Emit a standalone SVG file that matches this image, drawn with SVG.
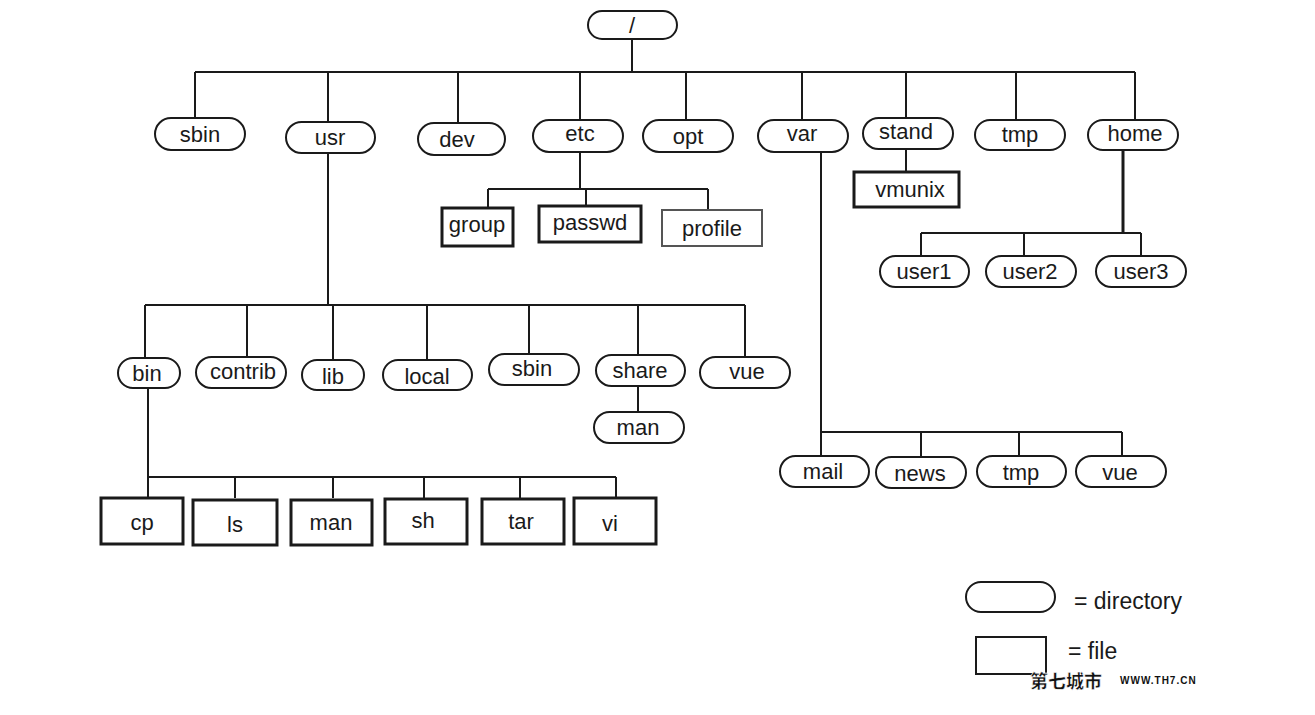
<svg xmlns="http://www.w3.org/2000/svg" width="1315" height="715" viewBox="0 0 1315 715">
<style>
.dir{fill:#fff;stroke:#1a1a1a;stroke-width:2}
.file{fill:#fff;stroke:#1a1a1a;stroke-width:3}
.file2{fill:#fff;stroke:#555;stroke-width:2}
.t{font-family:"Liberation Sans",Arial,sans-serif;font-size:22px;fill:#1a1a1a;text-anchor:middle}
.lg{font-family:"Liberation Sans",Arial,sans-serif;font-size:23px;fill:#1a1a1a}
.c{stroke:#1a1a1a;stroke-width:2;fill:none}
</style>
<rect width="1315" height="715" fill="#fff"/>
<g id="connectors" class="c">
<path d="M632 39V72M195 72H1135M195 72V118M328 72V122M458 72V123M580 72V120M686 72V120M802 72V120M906 72V118M1016 72V120M1135 72V120"/>
<path d="M580 152V189M488 189H708M488 189V208M586 189V206M708 189V210"/>
<path d="M906 149V172"/>
<path d="M1123 150V233" stroke-width="3"/>
<path d="M921 233H1141M921 233V256M1024 233V256M1141 233V256"/>
<path d="M328 153V305M145 305H745M145 305V358M247 305V357M333 305V360M427 305V360M529 305V354M638 305V355M745 305V357"/>
<path d="M638 386V412"/>
<path d="M148 388V477M148 477H616M148 477V498M235 477V498M333 477V498M424 477V498M520 477V498M616 477V498"/>
<path d="M821 152V432M821 432H1122M821 432V457M921 432V457M1019 432V457M1122 432V457"/>
</g>
<g id="n-root"><rect class="dir" x="588" y="11" width="89" height="28" rx="14"/><text class="t" x="632" y="33">/</text></g>
<g id="n-sbin"><rect class="dir" x="155" y="118" width="90" height="32" rx="16"/><text class="t" x="200" y="142">sbin</text></g>
<g id="n-usr"><rect class="dir" x="286" y="122" width="89" height="31" rx="15.5"/><text class="t" x="330" y="145">usr</text></g>
<g id="n-dev"><rect class="dir" x="418" y="123" width="87" height="32" rx="16"/><text class="t" x="457" y="147">dev</text></g>
<g id="n-etc"><rect class="dir" x="533" y="120" width="90" height="32" rx="16"/><text class="t" x="580" y="141">etc</text></g>
<g id="n-opt"><rect class="dir" x="643" y="120" width="90" height="32" rx="16"/><text class="t" x="688" y="144">opt</text></g>
<g id="n-var"><rect class="dir" x="758" y="120" width="90" height="32" rx="16"/><text class="t" x="802" y="141">var</text></g>
<g id="n-stand"><rect class="dir" x="863" y="118" width="90" height="31" rx="15.5"/><text class="t" x="906" y="139">stand</text></g>
<g id="n-tmp"><rect class="dir" x="975" y="120" width="90" height="30" rx="15"/><text class="t" x="1020" y="142">tmp</text></g>
<g id="n-home"><rect class="dir" x="1088" y="120" width="90" height="30" rx="15"/><text class="t" x="1135" y="141">home</text></g>
<g id="f-group"><rect class="file" x="442" y="208" width="71" height="38"/><text class="t" x="477" y="232">group</text></g>
<g id="f-passwd"><rect class="file" x="539" y="206" width="102" height="36"/><text class="t" x="590" y="230">passwd</text></g>
<g id="f-profile"><rect class="file2" x="662" y="210" width="100" height="36"/><text class="t" x="712" y="236">profile</text></g>
<g id="f-vmunix"><rect class="file" x="854" y="172" width="105" height="35"/><text class="t" x="910" y="197">vmunix</text></g>
<g id="n-user1"><rect class="dir" x="880" y="256" width="89" height="31" rx="15.5"/><text class="t" x="924" y="279">user1</text></g>
<g id="n-user2"><rect class="dir" x="986" y="256" width="90" height="31" rx="15.5"/><text class="t" x="1030" y="279">user2</text></g>
<g id="n-user3"><rect class="dir" x="1096" y="256" width="90" height="31" rx="15.5"/><text class="t" x="1141" y="279">user3</text></g>
<g id="n-bin"><rect class="dir" x="118" y="358" width="62" height="30" rx="15"/><text class="t" x="147" y="381">bin</text></g>
<g id="n-contrib"><rect class="dir" x="196" y="357" width="90" height="31" rx="15.5"/><text class="t" x="243" y="379">contrib</text></g>
<g id="n-lib"><rect class="dir" x="302" y="360" width="62" height="30" rx="15"/><text class="t" x="333" y="384">lib</text></g>
<g id="n-local"><rect class="dir" x="383" y="360" width="89" height="30" rx="15"/><text class="t" x="427" y="384">local</text></g>
<g id="n-sbin2"><rect class="dir" x="489" y="354" width="90" height="31" rx="15.5"/><text class="t" x="532" y="376">sbin</text></g>
<g id="n-share"><rect class="dir" x="596" y="355" width="89" height="31" rx="15.5"/><text class="t" x="640" y="378">share</text></g>
<g id="n-vue"><rect class="dir" x="700" y="357" width="90" height="31" rx="15.5"/><text class="t" x="747" y="379">vue</text></g>
<g id="n-man2"><rect class="dir" x="594" y="412" width="90" height="31" rx="15.5"/><text class="t" x="638" y="435">man</text></g>
<g id="f-cp"><rect class="file" x="101" y="498" width="82" height="46"/><text class="t" x="142" y="530">cp</text></g>
<g id="f-ls"><rect class="file" x="193" y="500" width="84" height="45"/><text class="t" x="235" y="532">ls</text></g>
<g id="f-man"><rect class="file" x="291" y="500" width="81" height="45"/><text class="t" x="331" y="530">man</text></g>
<g id="f-sh"><rect class="file" x="385" y="499" width="82" height="45"/><text class="t" x="423" y="528">sh</text></g>
<g id="f-tar"><rect class="file" x="482" y="499" width="82" height="45"/><text class="t" x="521" y="529">tar</text></g>
<g id="f-vi"><rect class="file" x="574" y="498" width="82" height="46"/><text class="t" x="610" y="531">vi</text></g>
<g id="n-mail"><rect class="dir" x="780" y="456" width="89" height="31" rx="15.5"/><text class="t" x="823" y="479">mail</text></g>
<g id="n-news"><rect class="dir" x="876" y="457" width="90" height="31" rx="15.5"/><text class="t" x="920" y="481">news</text></g>
<g id="n-tmp2"><rect class="dir" x="977" y="456" width="89" height="31" rx="15.5"/><text class="t" x="1021" y="480">tmp</text></g>
<g id="n-vue2"><rect class="dir" x="1076" y="456" width="90" height="31" rx="15.5"/><text class="t" x="1120" y="480">vue</text></g>
<g id="legend">
<rect class="dir" x="966" y="582" width="89" height="30" rx="15"/>
<text class="lg" x="1074" y="609">= directory</text>
<rect class="dir" x="976" y="637" width="70" height="37"/>
<text class="lg" x="1068" y="659">= file</text>
</g>
<g id="watermark">
<text x="1030" y="688" style="font-family:'Noto Sans CJK SC',sans-serif;font-size:18px;font-weight:900;fill:#111;stroke:#fff;stroke-width:0.6">第七城市</text>
<text x="1120" y="684" style="font-family:'Liberation Sans',sans-serif;font-size:10px;font-weight:bold;letter-spacing:1px;fill:#111">WWW.TH7.CN</text>
</g>
</svg>
